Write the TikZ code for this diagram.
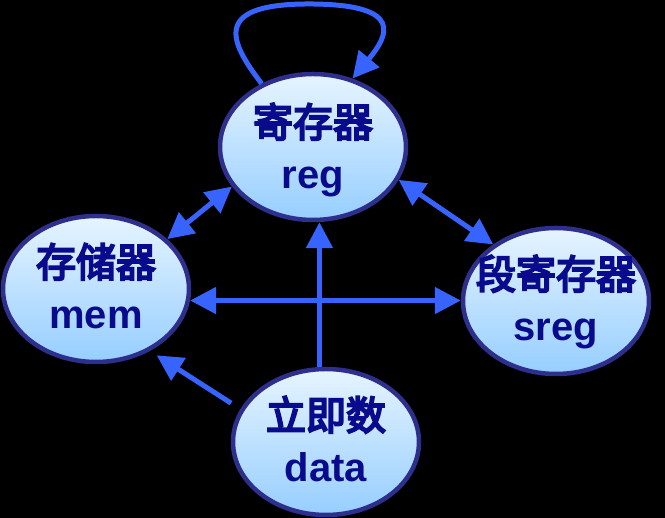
\documentclass[tikz,border=0pt]{standalone}
\usepackage{fontspec}
\setmainfont{Liberation Sans}
\newfontfamily\cjk[FakeBold=5]{Noto Sans CJK SC}
\usetikzlibrary{shapes.geometric,arrows.meta}
\definecolor{bordernavy}{RGB}{46,46,140}
\definecolor{arrowblue}{RGB}{55,100,255}
\definecolor{textnavy}{RGB}{10,10,140}
\definecolor{filltop}{RGB}{230,244,255}
\definecolor{fillbot}{RGB}{150,206,255}
\tikzset{
  cell/.style={ellipse, draw=bordernavy, line width=4.5pt, top color=filltop, bottom color=fillbot,
    minimum width=186pt, minimum height=146pt, inner sep=0pt},
  zh/.style={anchor=base, text=textnavy, font=\fontsize{40}{48}\selectfont\cjk, inner sep=0pt},
  en/.style={anchor=base, text=textnavy, font=\fontsize{40}{48}\selectfont\bfseries, inner sep=0pt},
  conn/.style={draw=arrowblue, line width=5pt},
  tip/.style={arrows={-{Triangle[length=26pt,width=26pt]}}},
  tips/.style={arrows={{Triangle[length=26pt,width=26pt]}-{Triangle[length=26pt,width=26pt]}}}
}
\begin{document}
\begin{tikzpicture}[x=1pt,y=1pt]
\fill[black] (0,0) rectangle (665,518);
\useasboundingbox (0,0) rectangle (665,518);
\node[cell] (reg) at (313,371) {};
\node[cell] (mem) at (96,229) {};
\node[cell] (sreg) at (556,217) {};
\node[cell] (data) at (326,76) {};
\node[zh] (regz) at ([yshift=10pt]reg.center) {寄存器};
\node[en] (rege) at ([yshift=-42pt]reg.center) {reg};
\node[zh] (memz) at ([yshift=12pt]mem.center) {存储器};
\node[en] (meme) at ([yshift=-40pt]mem.center) {mem};
\node[zh] (sregz) at ([yshift=12pt]sreg.center) {段寄存器};
\node[en] (srege) at ([yshift=-40pt]sreg.center) {sreg};
\node[zh] (dataz) at ([yshift=12pt]data.center) {立即数};
\node[en] (datae) at ([yshift=-40pt]data.center) {data};
% self loop
\coordinate (ltop) at (313,514);
\draw[conn] (reg.129) .. controls (228,478) and (212,515) .. (ltop);
\draw[conn,tip] (ltop) .. controls (405,513) and (388,482) .. (reg.60);
% two-way arrows
\draw[conn,tips] (mem.35) -- (reg.206);
\draw[conn,tips] (reg.-21) -- (sreg.138);
\draw[conn,tips] (mem.-7) -- (mem.-7 -| sreg.west);
% data arrows
\draw[conn,tip] (data.95) -- (data.95 |- reg.south);
\draw[conn,tip,shorten <=11pt,shorten >=8pt] (data.159) -- (mem.-49);
\end{tikzpicture}
\end{document}
